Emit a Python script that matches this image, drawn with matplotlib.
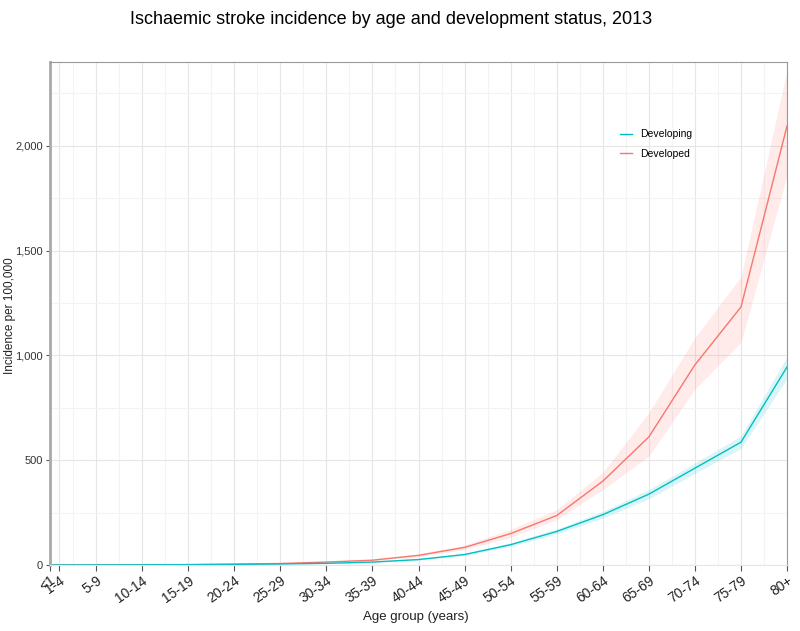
import numpy as np
import matplotlib.pyplot as plt
from matplotlib.ticker import FuncFormatter, MultipleLocator, FixedLocator

plt.rcParams['font.family'] = ['Liberation Sans', 'DejaVu Sans']

age_groups = ['<1', '1-4', '5-9', '10-14', '15-19', '20-24', '25-29', '30-34',
              '35-39', '40-44', '45-49', '50-54', '55-59', '60-64', '65-69',
              '70-74', '75-79', '80+']
age_start = [0, 1, 5, 10, 15, 20, 25, 30, 35, 40, 45, 50, 55, 60, 65, 70, 75, 80]

# incidence per 100,000
developed = [0, 0.3, 0.5, 1, 2, 4, 7, 14, 23, 46, 84, 150, 236, 400, 611, 955, 1231, 2095]
developed_lo = [0, 0.2, 0.4, 0.8, 1.6, 3.3, 6, 12, 20, 40, 74, 132, 216, 360, 520, 840, 1062, 1860]
developed_hi = [0, 0.4, 0.6, 1.2, 2.4, 4.8, 8, 16, 26, 52, 95, 170, 264, 442, 726, 1085, 1375, 2360]

developing = [0, 0.2, 0.4, 0.8, 1.5, 3, 5, 8, 14, 26, 50, 97, 160, 240, 338, 462, 586, 945]
developing_lo = [0, 0.15, 0.35, 0.7, 1.3, 2.7, 4.5, 7, 12.5, 23, 45, 89, 148, 224, 316, 437, 556, 890]
developing_hi = [0, 0.25, 0.45, 0.9, 1.7, 3.3, 5.5, 9, 15.5, 29, 55, 105, 172, 256, 360, 487, 616, 995]

red = '#F8766D'
teal = '#00BFC4'

fig = plt.figure(figsize=(8, 6.31), dpi=100)
ax = fig.add_axes([0.0625, 0.1046, 0.9213, 0.7971])

ax.fill_between(age_start, developed_lo, developed_hi, color=red, alpha=0.14, linewidth=0)
ax.plot(age_start, developed, color=red, lw=1.0, label='Developed')
ax.fill_between(age_start, developing_lo, developing_hi, color=teal, alpha=0.14, linewidth=0)
ax.plot(age_start, developing, color=teal, lw=1.0, label='Developing')

ax.set_xlim(0, 80)
ax.set_ylim(0, 2400)

ax.xaxis.set_major_locator(FixedLocator(age_start))
ax.set_xticklabels(age_groups, rotation=35, ha='right', rotation_mode='anchor',
                   fontsize=10, color='#222222')
ax.xaxis.set_minor_locator(FixedLocator(np.arange(2.5, 80, 5)))
ax.yaxis.set_major_locator(MultipleLocator(500))
ax.yaxis.set_minor_locator(MultipleLocator(250))
ax.yaxis.set_major_formatter(FuncFormatter(lambda v, p: f'{int(v):,}'))
ax.tick_params(axis='y', labelsize=8, labelcolor='#333333', length=3, color='#555555', pad=2)
ax.tick_params(axis='x', length=4, color='#555555', pad=2)
ax.tick_params(which='minor', length=0)

ax.grid(which='major', color='#e6e6e6', lw=0.8)
ax.grid(which='minor', color='#f3f3f3', lw=0.8)
ax.set_axisbelow(True)

ax.spines['left'].set_color('#aaaaaa')
ax.spines['left'].set_linewidth(2)
for s in ['top', 'right']:
    ax.spines[s].set_color('#999999')
    ax.spines[s].set_linewidth(0.8)
ax.spines['bottom'].set_color('#e6e6e6')

handles, labels = ax.get_legend_handles_labels()
ax.legend(handles[::-1], labels[::-1], loc='upper left', bbox_to_anchor=(0.76, 0.885),
          frameon=False, fontsize=7.5, handlelength=1.2, labelspacing=0.9)

fig.text(0.012, 0.5, 'Incidence per 100,000', rotation=90, ha='center', va='center',
         fontsize=8.5, color='#222222')
fig.text(0.52, 0.022, 'Age group (years)', ha='center', va='center',
         fontsize=9.5, color='#222222')
fig.suptitle('Ischaemic stroke incidence by age and development status, 2013',
             fontsize=13, x=0.489, y=0.982)

plt.savefig('out.png', dpi=100)
